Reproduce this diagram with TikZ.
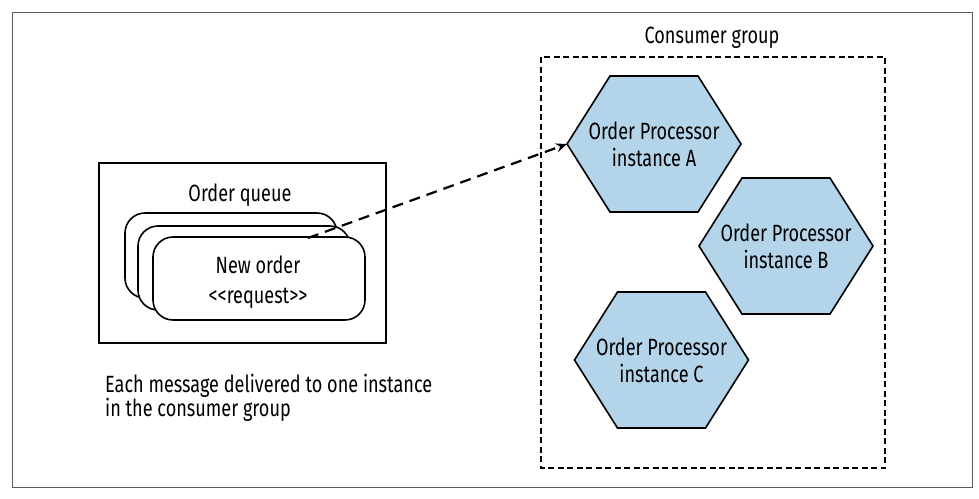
\documentclass[tikz,border=0pt]{standalone}
\usepackage{fontspec}
\setmainfont{Fira Sans}[FakeStretch=0.77]
\usetikzlibrary{arrows.meta,calc}
\definecolor{hexblue}{RGB}{180,212,234}
\definecolor{framegray}{RGB}{90,90,90}
\tikzset{
  card/.style={draw=black, line width=1.6pt, fill=white, rounded corners=20pt},
  qbox/.style={draw=black, line width=1.4pt},
  grpbox/.style={draw=black, line width=1.6pt, dash pattern=on 6pt off 3.5pt},
  flow/.style={draw=black, line width=2.2pt, dash pattern=on 11pt off 7pt, -{Stealth[length=11pt,width=9pt]}},
  hexlabel/.style={font=\fontsize{23.5}{27}\selectfont, align=center, inner sep=0pt},
  lbl/.style={font=\fontsize{23.5}{24}\selectfont, inner sep=0pt},
  hexshape/.style={draw=black, line width=1.6pt, fill=hexblue, line join=miter}
}
\newcommand{\hexat}[1]{%
  \path[hexshape] ($(#1)+(-87,0)$) -- ($(#1)+(-44,-68)$) -- ($(#1)+(44,-68)$) -- ($(#1)+(87,0)$) -- ($(#1)+(44,68)$) -- ($(#1)+(-44,68)$) -- cycle;}
\begin{document}
\begin{tikzpicture}[x=1pt,y=-1pt]
\useasboundingbox (0,0) rectangle (979,498);
\draw[framegray, line width=1pt] (12,12) rectangle (972,487);
% queue box
\draw[qbox] (99,163) rectangle (386,343);
\node[lbl] (qlabel) at (240,195) {Order queue};
\draw[card] (125,213) rectangle (337,298);
\draw[card] (138,226) rectangle (350,310);
\draw[card] (153,237) rectangle (365,320);
\node[lbl, align=center, font=\fontsize{23.5}{30}\selectfont] (msg) at (258,282) {New order\\<{}<request>{}>};
\coordinate (start) at (308,238);
% consumer group
\draw[grpbox] (541,57) rectangle (885,468);
\node[lbl] (glabel) at (712,38) {Consumer group};
\coordinate (cA) at (654,144);
\coordinate (cB) at (786,246);
\coordinate (cC) at (661.5,360);
\hexat{cA}
\hexat{cB}
\hexat{cC}
\node[hexlabel] (hA) at (cA) {Order Processor\\instance A};
\node[hexlabel] (hB) at (cB) {Order Processor\\instance B};
\node[hexlabel] (hC) at (cC) {Order Processor\\instance C};
\coordinate (hAwest) at ($(cA)+(-87,0)$);
\draw[flow] (start) -- (hAwest);
\node[lbl, align=left, anchor=north west, font=\fontsize{23.5}{24}\selectfont] (note) at (105,374) {Each message delivered to one instance\\in the consumer group};
\end{tikzpicture}
\end{document}
